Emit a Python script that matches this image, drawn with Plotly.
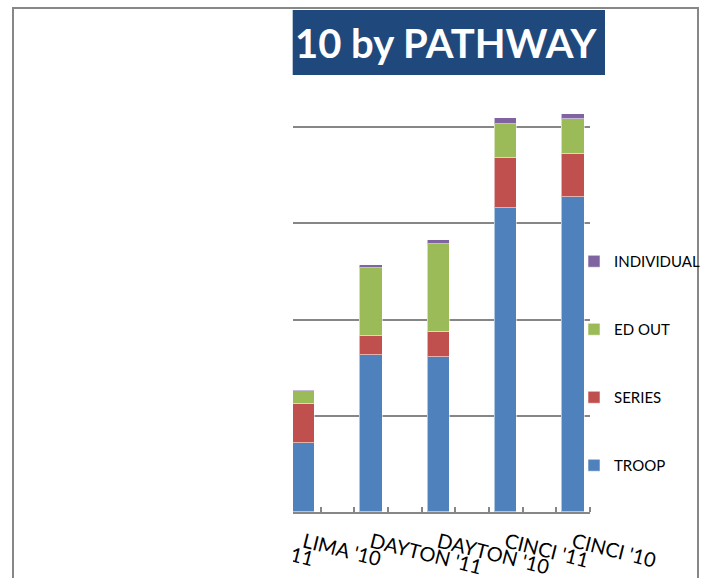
import plotly.graph_objects as go

categories = ["LIMA '11", "LIMA '10", "DAYTON '11", "DAYTON '10", "CINCI '11", "CINCI '10"]
troop = [None, 35.8, 81.5, 80.5, 157.5, 163.3]
series = [None, 20.2, 9.7, 12.8, 26.1, 22.3]
ed_out = [None, 6.8, 35.5, 45.7, 17.5, 18.4]
individual = [None, 0.7, 1.2, 2.3, 3.1, 2.4]

series_names = ["TROOP", "SERIES", "ED OUT", "INDIVIDUAL"]
series_values = [troop, series, ed_out, individual]
colors = ["#4F81BD", "#C0504D", "#9BBB59", "#8064A2"]

W, H = 703, 578
FONT = "Lato"

xpos = list(range(len(categories)))

fig = go.Figure()
for i, (name, vals, col) in enumerate(zip(series_names, series_values, colors)):
    fig.add_trace(go.Bar(
        x=xpos, y=vals, name=name, width=0.33,
        marker=dict(color=col, line=dict(color="rgba(255,255,255,0.55)", width=1)),
        legendgroup=name, legendrank=len(series_names) - i,
    ))

def px_x(p):
    return p / W

def px_y(p):
    return 1 - p / H

fig.update_layout(
    width=W, height=H,
    margin=dict(l=0, r=0, t=0, b=0, autoexpand=False),
    paper_bgcolor="white", plot_bgcolor="white",
    barmode="stack",
    bargap=0,
    showlegend=True,
    font=dict(family=FONT, color="#000000"),
    legend=dict(
        x=px_x(574), y=px_y(245), xanchor="left", yanchor="top",
        traceorder="grouped", tracegroupgap=45.5,
        font=dict(family=FONT, size=15, color="#000000"),
        bgcolor="rgba(0,0,0,0)",
    ),
    xaxis=dict(
        domain=[px_x(219.7), px_x(590)],
        range=[-0.25, 5.25],
        tickmode="array", tickvals=xpos, ticktext=categories,
        ticks="", tickangle=14,
        tickfont=dict(family=FONT, size=20, color="#000000"),
        showgrid=False, zeroline=False,
        showline=True, linecolor="#868686", linewidth=2,
        minor=dict(ticks="inside", tick0=0.25, dtick=0.5, ticklen=5,
                   tickwidth=2, tickcolor="#868686", showgrid=False),
        ticklabelstandoff=9,
        fixedrange=True,
    ),
    yaxis=dict(
        domain=[px_y(512.3), px_y(30.3)],
        range=[0, 250], dtick=50,
        showticklabels=False, ticks="",
        showgrid=True, gridcolor="#868686", gridwidth=2,
        zeroline=False, showline=False,
        fixedrange=True,
    ),
    shapes=[
        # white cover over the left part of the slide
        dict(type="rect", xref="paper", yref="paper", layer="above",
             x0=px_x(14), x1=px_x(293), y0=-0.05, y1=px_y(9),
             fillcolor="white", line=dict(width=0)),
        # title box
        dict(type="rect", xref="paper", yref="paper", layer="above",
             x0=px_x(292.7), x1=px_x(605), y0=px_y(75), y1=px_y(10),
             fillcolor="#1F497D", line=dict(width=0)),
        # outer frame
        dict(type="rect", xref="paper", yref="paper", layer="above",
             x0=px_x(13), x1=px_x(698), y0=-0.05, y1=px_y(8),
             fillcolor="rgba(0,0,0,0)", line=dict(color="#878787", width=2)),
    ],
    annotations=[
        dict(text="<b>10 by PATHWAY</b>", xref="paper", yref="paper",
             x=px_x(446), y=px_y(43), xanchor="center", yanchor="middle",
             showarrow=False, font=dict(family=FONT, size=40, color="white")),
    ],
)

fig.write_html("out.html")
